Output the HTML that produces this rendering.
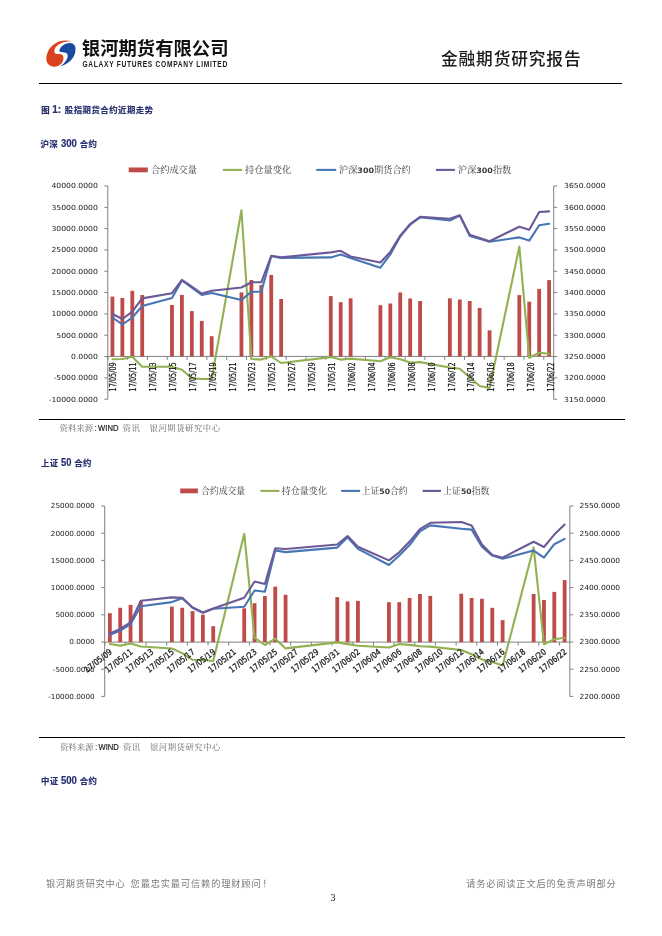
<!DOCTYPE html>
<html><head><meta charset="utf-8"><title>金融期货研究报告</title>
<style>
html,body{margin:0;padding:0;background:#fff;}
body{width:662px;height:936px;overflow:hidden;position:relative;}
svg{position:absolute;left:0;top:0;display:block;will-change:transform;}
.ax{font-family:"DejaVu Sans","Liberation Sans",sans-serif;font-size:7px;fill:#1a1a1a;}
.dt{font-family:"DejaVu Sans",sans-serif;font-size:8.1px;fill:#1a1a1a;stroke:#1a1a1a;stroke-width:0.25px;}
.dt2{font-family:"DejaVu Sans",sans-serif;font-size:8.4px;fill:#1a1a1a;stroke:#1a1a1a;stroke-width:0.3px;}
.lg{font-family:"Liberation Serif","Noto Serif CJK SC",serif;font-size:8.6px;fill:#3a3a3a;}
.lgn{font-family:"DejaVu Sans",sans-serif;font-weight:bold;font-size:7.5px;fill:#3a3a3a;}
.hd{font-family:"Liberation Sans","Noto Sans CJK SC",sans-serif;font-size:8.4px;font-weight:bold;fill:#283070;stroke:#283070;stroke-width:0.2px;}
.hdn{font-size:10px;}
.src{font-family:"Liberation Serif","Noto Serif CJK SC",serif;font-size:8.4px;fill:#6a6a6a;}
.srcw{font-family:"Liberation Sans",sans-serif;fill:#222;}
.ft{font-family:"Liberation Sans","Noto Sans CJK SC",sans-serif;font-size:9.2px;fill:#7a7a7a;}
</style></head>
<body>
<svg width="662" height="936" viewBox="0 0 662 936">
<path d="M71.6 41.2 C68 40.2 63 40 59.1 41.5 C54.5 43.2 50 47 48 51.5 C46.3 55 45.6 59.5 47.2 62.8 C48.8 65.6 51.8 66.9 54.8 66.8 C58.2 66.6 61.2 64.6 62.6 61.8 C63.8 59.3 63.8 56.2 62.4 54.9 C61.2 53.9 59.4 54.1 57.8 54.1 C56.4 54.1 55 53.6 54.6 52.4 C54.1 50.6 54.6 48.6 55.8 47 C57.6 44.8 60.6 43.2 63.6 42.2 C66.2 41.5 69 41.3 71.6 41.2 Z" fill="#D9441F"/>
<path d="M59.2 51 C59.8 48.6 61.2 46.8 62.8 45.6 C64.6 44.2 67 43.2 69.5 43.1 C71.6 43 73.6 43.8 74.7 45.6 C75.7 47.4 75.7 50.2 75.1 52.8 C74.3 56.2 72.4 59.2 69.6 61.5 C66.9 63.7 63.6 65.4 60.4 66.6 C62.6 64.8 64.6 62.8 66.1 60.6 C67.4 58.6 68 56.4 67.5 54.6 C67.1 53.2 65.8 52.5 64.2 52.4 C62.4 52.3 60.2 52.2 59.2 51 Z" fill="#1A4A9E"/>
<text x="81.8" y="54.8" font-family="Liberation Sans, Noto Sans CJK SC, sans-serif" font-weight="bold" font-size="18.3" fill="#111" textLength="146.7" lengthAdjust="spacingAndGlyphs">银河期货有限公司</text>
<text transform="translate(82.4 67) scale(0.78 1)" font-family="Liberation Sans, sans-serif" font-weight="bold" font-size="8.5" fill="#1a1a1a" textLength="185.6" lengthAdjust="spacing">GALAXY FUTURES COMPANY LIMITED</text>
<text x="441" y="65.4" font-family="Liberation Sans, Noto Sans CJK SC, sans-serif" font-size="16.7" font-weight="500" fill="#1a1a1a" textLength="139.6" lengthAdjust="spacing">金融期货研究报告</text>
<rect x="39" y="83" width="583" height="1" fill="#000"/>
<text x="41.2" y="113.1" class="hd" letter-spacing="0.5">图</text><text x="52.2" y="113.1" class="hd hdn">1:</text><text x="64.8" y="113.1" class="hd" letter-spacing="0.5">股指期货合约近期走势</text>
<text x="40.5" y="147.2" class="hd" letter-spacing="0.4">沪深</text><text x="61" y="147.2" class="hd hdn" textLength="15.9" lengthAdjust="spacingAndGlyphs">300</text><text x="79.8" y="147.2" class="hd" letter-spacing="0.4">合约</text>
<rect x="128.7" y="167.5" width="19.1" height="4.8" fill="#BE4B48"/>
<text x="151" y="173.2" class="lg" textLength="46" lengthAdjust="spacingAndGlyphs">合约成交量</text>
<path d="M222.9 169.9H242.2" stroke="#92B152" stroke-width="2.1"/>
<text x="245" y="173.2" class="lg" textLength="46.4" lengthAdjust="spacingAndGlyphs">持仓量变化</text>
<path d="M316.3 169.9H336.2" stroke="#4676B4" stroke-width="2.1"/>
<text x="339" y="173.2" class="lg" textLength="71.8" lengthAdjust="spacingAndGlyphs">沪深<tspan class="lgn">300</tspan>期货合约</text>
<path d="M435.9 169.9H454.9" stroke="#6C5A98" stroke-width="2.1"/>
<text x="458" y="173.2" class="lg" textLength="53.2" lengthAdjust="spacingAndGlyphs">沪深<tspan class="lgn">300</tspan>指数</text>
<path d="M107.8 186V399.2M553.7 186V399.2" stroke="#808080" stroke-width="1" fill="none"/>
<path d="M104.3 186H107.8M553.7 186H557.2M104.3 207.32H107.8M553.7 207.32H557.2M104.3 228.64H107.8M553.7 228.64H557.2M104.3 249.96H107.8M553.7 249.96H557.2M104.3 271.28H107.8M553.7 271.28H557.2M104.3 292.6H107.8M553.7 292.6H557.2M104.3 313.92H107.8M553.7 313.92H557.2M104.3 335.24H107.8M553.7 335.24H557.2M104.3 356.56H107.8M553.7 356.56H557.2M104.3 377.88H107.8M553.7 377.88H557.2M104.3 399.2H107.8M553.7 399.2H557.2" stroke="#808080" stroke-width="1" fill="none"/>
<path d="M107.8 356.4H553.7" stroke="#808080" stroke-width="1" fill="none"/>
<path d="M107.8 356.4v3.5M127.62 356.4v3.5M147.44 356.4v3.5M167.25 356.4v3.5M187.07 356.4v3.5M206.89 356.4v3.5M226.71 356.4v3.5M246.52 356.4v3.5M266.34 356.4v3.5M286.16 356.4v3.5M305.98 356.4v3.5M325.8 356.4v3.5M345.61 356.4v3.5M365.43 356.4v3.5M385.25 356.4v3.5M405.07 356.4v3.5M424.88 356.4v3.5M444.7 356.4v3.5M464.52 356.4v3.5M484.34 356.4v3.5M504.16 356.4v3.5M523.97 356.4v3.5M543.79 356.4v3.5" stroke="#808080" stroke-width="1" fill="none"/>
<rect x="110.54" y="296.6" width="3.8" height="59.8" fill="#BE4B48"/>
<rect x="120.46" y="298" width="3.8" height="58.4" fill="#BE4B48"/>
<rect x="130.39" y="290.8" width="3.8" height="65.6" fill="#BE4B48"/>
<rect x="140.31" y="295" width="3.8" height="61.4" fill="#BE4B48"/>
<rect x="170.08" y="305" width="3.8" height="51.4" fill="#BE4B48"/>
<rect x="180.01" y="294.9" width="3.8" height="61.5" fill="#BE4B48"/>
<rect x="189.93" y="311.1" width="3.8" height="45.3" fill="#BE4B48"/>
<rect x="199.86" y="320.9" width="3.8" height="35.5" fill="#BE4B48"/>
<rect x="209.78" y="336.2" width="3.8" height="20.2" fill="#BE4B48"/>
<rect x="239.55" y="292.4" width="3.8" height="64" fill="#BE4B48"/>
<rect x="249.48" y="280" width="3.8" height="76.4" fill="#BE4B48"/>
<rect x="259.4" y="285" width="3.8" height="71.4" fill="#BE4B48"/>
<rect x="269.32" y="274.9" width="3.8" height="81.5" fill="#BE4B48"/>
<rect x="279.25" y="299" width="3.8" height="57.4" fill="#BE4B48"/>
<rect x="328.87" y="296.1" width="3.8" height="60.3" fill="#BE4B48"/>
<rect x="338.79" y="302.2" width="3.8" height="54.2" fill="#BE4B48"/>
<rect x="348.72" y="298.3" width="3.8" height="58.1" fill="#BE4B48"/>
<rect x="378.49" y="305.2" width="3.8" height="51.2" fill="#BE4B48"/>
<rect x="388.41" y="303.5" width="3.8" height="52.9" fill="#BE4B48"/>
<rect x="398.34" y="292.5" width="3.8" height="63.9" fill="#BE4B48"/>
<rect x="408.26" y="298.5" width="3.8" height="57.9" fill="#BE4B48"/>
<rect x="418.18" y="301" width="3.8" height="55.4" fill="#BE4B48"/>
<rect x="447.96" y="298.3" width="3.8" height="58.1" fill="#BE4B48"/>
<rect x="457.88" y="299.5" width="3.8" height="56.9" fill="#BE4B48"/>
<rect x="467.8" y="301" width="3.8" height="55.4" fill="#BE4B48"/>
<rect x="477.73" y="307.9" width="3.8" height="48.5" fill="#BE4B48"/>
<rect x="487.65" y="330.3" width="3.8" height="26.1" fill="#BE4B48"/>
<rect x="517.42" y="295.1" width="3.8" height="61.3" fill="#BE4B48"/>
<rect x="527.35" y="301.7" width="3.8" height="54.7" fill="#BE4B48"/>
<rect x="537.27" y="288.9" width="3.8" height="67.5" fill="#BE4B48"/>
<rect x="547.2" y="280.1" width="3.8" height="76.3" fill="#BE4B48"/>
<polyline points="112.44,359.2 122.36,359 132.29,356.8 142.21,366.7 171.98,366.7 181.91,369.8 191.83,378.3 201.76,379 211.68,379 241.45,210.2 251.38,359 261.3,359.6 271.22,356.3 281.15,363 330.77,357.1 340.69,359.6 350.62,358.6 380.39,361.2 390.31,357.3 400.24,359.2 410.16,362.5 420.08,362.1 449.86,367.5 459.78,368.7 469.7,377.3 479.63,386 489.55,388 519.32,246.6 529.25,357.8 539.17,352.7 549.1,353.8" fill="none" stroke="#92B152" stroke-width="2.1" stroke-linejoin="round" stroke-linecap="round"/>
<polyline points="112.44,317.5 122.36,324.5 132.29,317.6 142.21,306 171.98,298 181.91,280.5 191.83,287.6 201.76,294.9 211.68,293 241.45,299.9 251.38,291.8 261.3,291.8 271.22,256.3 281.15,257.9 330.77,257.4 340.69,254.6 350.62,258 380.39,267.7 390.31,254.4 400.24,236.5 410.16,224.6 420.08,217.3 449.86,220.5 459.78,215.6 469.7,235.9 479.63,238.7 489.55,241.7 519.32,237.4 529.25,240.6 539.17,225.2 549.1,223.7" fill="none" stroke="#4676B4" stroke-width="2.1" stroke-linejoin="round" stroke-linecap="round"/>
<polyline points="112.44,314 122.36,319 132.29,311.6 142.21,298.4 171.98,293.2 181.91,279.9 191.83,286.7 201.76,293.5 211.68,290.8 241.45,287.5 251.38,282.2 261.3,282.3 271.22,255.8 281.15,257.4 330.77,252.4 340.69,250.8 350.62,256.5 380.39,262.5 390.31,251.9 400.24,235.6 410.16,224 420.08,216.9 449.86,218.8 459.78,215.2 469.7,234.8 479.63,238 489.55,241.2 519.32,226.7 529.25,229.7 539.17,212 549.1,211.4" fill="none" stroke="#6C5A98" stroke-width="2.1" stroke-linejoin="round" stroke-linecap="round"/>
<text transform="translate(97.9 188.3) scale(1.1 1)" class="ax" text-anchor="end">40000.0000</text>
<text transform="translate(97.9 209.62) scale(1.1 1)" class="ax" text-anchor="end">35000.0000</text>
<text transform="translate(97.9 230.94) scale(1.1 1)" class="ax" text-anchor="end">30000.0000</text>
<text transform="translate(97.9 252.26) scale(1.1 1)" class="ax" text-anchor="end">25000.0000</text>
<text transform="translate(97.9 273.58) scale(1.1 1)" class="ax" text-anchor="end">20000.0000</text>
<text transform="translate(97.9 294.9) scale(1.1 1)" class="ax" text-anchor="end">15000.0000</text>
<text transform="translate(97.9 316.22) scale(1.1 1)" class="ax" text-anchor="end">10000.0000</text>
<text transform="translate(97.9 337.54) scale(1.1 1)" class="ax" text-anchor="end">5000.0000</text>
<text transform="translate(97.9 358.86) scale(1.1 1)" class="ax" text-anchor="end">0.0000</text>
<text transform="translate(97.9 380.18) scale(1.1 1)" class="ax" text-anchor="end">-5000.0000</text>
<text transform="translate(97.9 401.5) scale(1.1 1)" class="ax" text-anchor="end">-10000.0000</text>
<text transform="translate(564 188.3) scale(1.1 1)" class="ax">3650.0000</text>
<text transform="translate(564 209.62) scale(1.1 1)" class="ax">3600.0000</text>
<text transform="translate(564 230.94) scale(1.1 1)" class="ax">3550.0000</text>
<text transform="translate(564 252.26) scale(1.1 1)" class="ax">3500.0000</text>
<text transform="translate(564 273.58) scale(1.1 1)" class="ax">3450.0000</text>
<text transform="translate(564 294.9) scale(1.1 1)" class="ax">3400.0000</text>
<text transform="translate(564 316.22) scale(1.1 1)" class="ax">3350.0000</text>
<text transform="translate(564 337.54) scale(1.1 1)" class="ax">3300.0000</text>
<text transform="translate(564 358.86) scale(1.1 1)" class="ax">3250.0000</text>
<text transform="translate(564 380.18) scale(1.1 1)" class="ax">3200.0000</text>
<text transform="translate(564 401.5) scale(1.1 1)" class="ax">3150.0000</text>
<text transform="translate(116 362.4) rotate(-90)" class="dt" text-anchor="end" textLength="29" lengthAdjust="spacingAndGlyphs">17/05/09</text>
<text transform="translate(135.92 362.4) rotate(-90)" class="dt" text-anchor="end" textLength="29" lengthAdjust="spacingAndGlyphs">17/05/11</text>
<text transform="translate(155.83 362.4) rotate(-90)" class="dt" text-anchor="end" textLength="29" lengthAdjust="spacingAndGlyphs">17/05/13</text>
<text transform="translate(175.75 362.4) rotate(-90)" class="dt" text-anchor="end" textLength="29" lengthAdjust="spacingAndGlyphs">17/05/15</text>
<text transform="translate(195.66 362.4) rotate(-90)" class="dt" text-anchor="end" textLength="29" lengthAdjust="spacingAndGlyphs">17/05/17</text>
<text transform="translate(215.58 362.4) rotate(-90)" class="dt" text-anchor="end" textLength="29" lengthAdjust="spacingAndGlyphs">17/05/19</text>
<text transform="translate(235.5 362.4) rotate(-90)" class="dt" text-anchor="end" textLength="29" lengthAdjust="spacingAndGlyphs">17/05/21</text>
<text transform="translate(255.41 362.4) rotate(-90)" class="dt" text-anchor="end" textLength="29" lengthAdjust="spacingAndGlyphs">17/05/23</text>
<text transform="translate(275.33 362.4) rotate(-90)" class="dt" text-anchor="end" textLength="29" lengthAdjust="spacingAndGlyphs">17/05/25</text>
<text transform="translate(295.24 362.4) rotate(-90)" class="dt" text-anchor="end" textLength="29" lengthAdjust="spacingAndGlyphs">17/05/27</text>
<text transform="translate(315.16 362.4) rotate(-90)" class="dt" text-anchor="end" textLength="29" lengthAdjust="spacingAndGlyphs">17/05/29</text>
<text transform="translate(335.08 362.4) rotate(-90)" class="dt" text-anchor="end" textLength="29" lengthAdjust="spacingAndGlyphs">17/05/31</text>
<text transform="translate(354.99 362.4) rotate(-90)" class="dt" text-anchor="end" textLength="29" lengthAdjust="spacingAndGlyphs">17/06/02</text>
<text transform="translate(374.91 362.4) rotate(-90)" class="dt" text-anchor="end" textLength="29" lengthAdjust="spacingAndGlyphs">17/06/04</text>
<text transform="translate(394.82 362.4) rotate(-90)" class="dt" text-anchor="end" textLength="29" lengthAdjust="spacingAndGlyphs">17/06/06</text>
<text transform="translate(414.74 362.4) rotate(-90)" class="dt" text-anchor="end" textLength="29" lengthAdjust="spacingAndGlyphs">17/06/08</text>
<text transform="translate(434.66 362.4) rotate(-90)" class="dt" text-anchor="end" textLength="29" lengthAdjust="spacingAndGlyphs">17/06/10</text>
<text transform="translate(454.57 362.4) rotate(-90)" class="dt" text-anchor="end" textLength="29" lengthAdjust="spacingAndGlyphs">17/06/12</text>
<text transform="translate(474.49 362.4) rotate(-90)" class="dt" text-anchor="end" textLength="29" lengthAdjust="spacingAndGlyphs">17/06/14</text>
<text transform="translate(494.4 362.4) rotate(-90)" class="dt" text-anchor="end" textLength="29" lengthAdjust="spacingAndGlyphs">17/06/16</text>
<text transform="translate(514.32 362.4) rotate(-90)" class="dt" text-anchor="end" textLength="29" lengthAdjust="spacingAndGlyphs">17/06/18</text>
<text transform="translate(534.24 362.4) rotate(-90)" class="dt" text-anchor="end" textLength="29" lengthAdjust="spacingAndGlyphs">17/06/20</text>
<text transform="translate(554.15 362.4) rotate(-90)" class="dt" text-anchor="end" textLength="29" lengthAdjust="spacingAndGlyphs">17/06/22</text>
<rect x="39" y="419" width="586" height="1" fill="#000"/>
<text x="59.5" y="430.8" class="src" textLength="33.6" lengthAdjust="spacing">资料来源</text><text x="94.6" y="430.8" class="src srcw">:</text><text x="98.1" y="430.8" class="src srcw" style="font-size:8.6px;stroke:#222;stroke-width:0.2px" textLength="20.3" lengthAdjust="spacingAndGlyphs">WIND</text><text x="122.6" y="430.8" class="src" textLength="17.2" lengthAdjust="spacing">资讯</text><text x="149.6" y="430.8" class="src" textLength="70.4" lengthAdjust="spacing">银河期货研究中心</text>
<text x="41" y="466.2" class="hd" letter-spacing="0.4">上证</text><text x="61" y="466.2" class="hd hdn" textLength="10.4" lengthAdjust="spacingAndGlyphs">50</text><text x="74.2" y="466.2" class="hd" letter-spacing="0.4">合约</text>
<rect x="180.2" y="488.5" width="17.7" height="4.8" fill="#BE4B48"/>
<text x="201.1" y="494.2" class="lg" textLength="44.1" lengthAdjust="spacingAndGlyphs">合约成交量</text>
<path d="M260.4 490.9H279.5" stroke="#92B152" stroke-width="2.1"/>
<text x="281.7" y="494.2" class="lg" textLength="45.3" lengthAdjust="spacingAndGlyphs">持仓量变化</text>
<path d="M341.1 490.9H360.1" stroke="#4676B4" stroke-width="2.1"/>
<text x="361.7" y="494.2" class="lg" textLength="46" lengthAdjust="spacingAndGlyphs">上证<tspan class="lgn">50</tspan>合约</text>
<path d="M422.6 490.9H441" stroke="#6C5A98" stroke-width="2.1"/>
<text x="443.3" y="494.2" class="lg" textLength="46" lengthAdjust="spacingAndGlyphs">上证<tspan class="lgn">50</tspan>指数</text>
<path d="M104.7 506V696.4M569.8 506V696.4" stroke="#808080" stroke-width="1" fill="none"/>
<path d="M101.2 506H104.7M569.8 506H573.3M101.2 533.2H104.7M569.8 533.2H573.3M101.2 560.4H104.7M569.8 560.4H573.3M101.2 587.6H104.7M569.8 587.6H573.3M101.2 614.8H104.7M569.8 614.8H573.3M101.2 642H104.7M569.8 642H573.3M101.2 669.2H104.7M569.8 669.2H573.3M101.2 696.4H104.7M569.8 696.4H573.3" stroke="#808080" stroke-width="1" fill="none"/>
<path d="M104.7 642.1H569.8" stroke="#808080" stroke-width="1" fill="none"/>
<path d="M104.7 642.1v3.5M125.37 642.1v3.5M146.04 642.1v3.5M166.71 642.1v3.5M187.38 642.1v3.5M208.06 642.1v3.5M228.73 642.1v3.5M249.4 642.1v3.5M270.07 642.1v3.5M290.74 642.1v3.5M311.41 642.1v3.5M332.08 642.1v3.5M352.75 642.1v3.5M373.42 642.1v3.5M394.1 642.1v3.5M414.77 642.1v3.5M435.44 642.1v3.5M456.11 642.1v3.5M476.78 642.1v3.5M497.45 642.1v3.5M518.12 642.1v3.5M538.79 642.1v3.5M559.46 642.1v3.5" stroke="#808080" stroke-width="1" fill="none"/>
<rect x="107.97" y="613.2" width="3.8" height="28.9" fill="#BE4B48"/>
<rect x="118.3" y="607.8" width="3.8" height="34.3" fill="#BE4B48"/>
<rect x="128.64" y="604.9" width="3.8" height="37.2" fill="#BE4B48"/>
<rect x="138.97" y="601.1" width="3.8" height="41" fill="#BE4B48"/>
<rect x="169.98" y="606.6" width="3.8" height="35.5" fill="#BE4B48"/>
<rect x="180.32" y="607.8" width="3.8" height="34.3" fill="#BE4B48"/>
<rect x="190.65" y="611.1" width="3.8" height="31" fill="#BE4B48"/>
<rect x="200.99" y="614.7" width="3.8" height="27.4" fill="#BE4B48"/>
<rect x="211.32" y="626.2" width="3.8" height="15.9" fill="#BE4B48"/>
<rect x="242.33" y="608.3" width="3.8" height="33.8" fill="#BE4B48"/>
<rect x="252.67" y="603.2" width="3.8" height="38.9" fill="#BE4B48"/>
<rect x="263" y="596" width="3.8" height="46.1" fill="#BE4B48"/>
<rect x="273.34" y="586.6" width="3.8" height="55.5" fill="#BE4B48"/>
<rect x="283.67" y="594.8" width="3.8" height="47.3" fill="#BE4B48"/>
<rect x="335.35" y="597.1" width="3.8" height="45" fill="#BE4B48"/>
<rect x="345.69" y="601.4" width="3.8" height="40.7" fill="#BE4B48"/>
<rect x="356.02" y="600.9" width="3.8" height="41.2" fill="#BE4B48"/>
<rect x="387.03" y="602.2" width="3.8" height="39.9" fill="#BE4B48"/>
<rect x="397.36" y="602.2" width="3.8" height="39.9" fill="#BE4B48"/>
<rect x="407.7" y="598" width="3.8" height="44.1" fill="#BE4B48"/>
<rect x="418.03" y="594" width="3.8" height="48.1" fill="#BE4B48"/>
<rect x="428.37" y="595.9" width="3.8" height="46.2" fill="#BE4B48"/>
<rect x="459.38" y="593.7" width="3.8" height="48.4" fill="#BE4B48"/>
<rect x="469.71" y="598" width="3.8" height="44.1" fill="#BE4B48"/>
<rect x="480.05" y="598.8" width="3.8" height="43.3" fill="#BE4B48"/>
<rect x="490.38" y="607.8" width="3.8" height="34.3" fill="#BE4B48"/>
<rect x="500.72" y="620.1" width="3.8" height="22" fill="#BE4B48"/>
<rect x="531.73" y="594" width="3.8" height="48.1" fill="#BE4B48"/>
<rect x="542.06" y="600" width="3.8" height="42.1" fill="#BE4B48"/>
<rect x="552.4" y="591.9" width="3.8" height="50.2" fill="#BE4B48"/>
<rect x="562.73" y="580.1" width="3.8" height="62" fill="#BE4B48"/>
<polyline points="109.87,644 120.2,645.6 130.54,643.5 140.87,646.5 171.88,648.5 182.22,653.1 192.55,659.8 202.89,660 213.22,661 244.23,533.7 254.57,637.8 264.9,645 275.24,638.7 285.57,648.4 337.25,642.4 347.59,644.1 357.92,645.8 388.93,647.5 399.26,644.1 409.6,644.9 419.93,646.3 430.27,646.6 461.28,650 471.61,654.3 481.95,659.5 492.28,662 502.62,665.6 533.63,547.4 543.96,644.2 554.3,639.3 564.63,637.8" fill="none" stroke="#92B152" stroke-width="2.1" stroke-linejoin="round" stroke-linecap="round"/>
<polyline points="109.87,634.8 120.2,630.7 130.54,624 140.87,606.3 171.88,602.1 182.22,598.3 192.55,607.7 202.89,612.7 213.22,608.8 244.23,606.8 254.57,590.5 264.9,591.7 275.24,550.4 285.57,552.1 337.25,547.6 347.59,537.3 357.92,548.9 388.93,565 399.26,555.5 409.6,545 419.93,531.3 430.27,525.4 461.28,528.8 471.61,529.6 481.95,546.7 492.28,555.6 502.62,558.8 533.63,550.6 543.96,557.7 554.3,544.2 564.63,538.9" fill="none" stroke="#4676B4" stroke-width="2.1" stroke-linejoin="round" stroke-linecap="round"/>
<polyline points="109.87,633.5 120.2,629 130.54,622.4 140.87,600.8 171.88,597.4 182.22,597.8 192.55,607.4 202.89,612.5 213.22,608.6 244.23,597.7 254.57,581.5 264.9,584 275.24,548.2 285.57,549 337.25,544.5 347.59,536 357.92,546.7 388.93,560.4 399.26,552.3 409.6,541.6 419.93,529.1 430.27,522.8 461.28,522 471.61,525.4 481.95,544.5 492.28,555 502.62,557.7 533.63,541.7 543.96,547 554.3,534.6 564.63,524.6" fill="none" stroke="#6C5A98" stroke-width="2.1" stroke-linejoin="round" stroke-linecap="round"/>
<text transform="translate(94.7 508.3) scale(1.04 1)" class="ax" text-anchor="end">25000.0000</text>
<text transform="translate(94.7 535.5) scale(1.04 1)" class="ax" text-anchor="end">20000.0000</text>
<text transform="translate(94.7 562.7) scale(1.04 1)" class="ax" text-anchor="end">15000.0000</text>
<text transform="translate(94.7 589.9) scale(1.04 1)" class="ax" text-anchor="end">10000.0000</text>
<text transform="translate(94.7 617.1) scale(1.04 1)" class="ax" text-anchor="end">5000.0000</text>
<text transform="translate(94.7 644.3) scale(1.04 1)" class="ax" text-anchor="end">0.0000</text>
<text transform="translate(94.7 671.5) scale(1.04 1)" class="ax" text-anchor="end">-5000.0000</text>
<text transform="translate(94.7 698.7) scale(1.04 1)" class="ax" text-anchor="end">-10000.0000</text>
<text transform="translate(579.4 508.3) scale(1.075 1)" class="ax">2550.0000</text>
<text transform="translate(579.4 535.5) scale(1.075 1)" class="ax">2500.0000</text>
<text transform="translate(579.4 562.7) scale(1.075 1)" class="ax">2450.0000</text>
<text transform="translate(579.4 589.9) scale(1.075 1)" class="ax">2400.0000</text>
<text transform="translate(579.4 617.1) scale(1.075 1)" class="ax">2350.0000</text>
<text transform="translate(579.4 644.3) scale(1.075 1)" class="ax">2300.0000</text>
<text transform="translate(579.4 671.5) scale(1.075 1)" class="ax">2250.0000</text>
<text transform="translate(579.4 698.7) scale(1.075 1)" class="ax">2200.0000</text>
<text transform="translate(112.67 653) rotate(-38)" class="dt2" text-anchor="end" textLength="32.5" lengthAdjust="spacingAndGlyphs">17/05/09</text>
<text transform="translate(133.34 653) rotate(-38)" class="dt2" text-anchor="end" textLength="32.5" lengthAdjust="spacingAndGlyphs">17/05/11</text>
<text transform="translate(154.01 653) rotate(-38)" class="dt2" text-anchor="end" textLength="32.5" lengthAdjust="spacingAndGlyphs">17/05/13</text>
<text transform="translate(174.68 653) rotate(-38)" class="dt2" text-anchor="end" textLength="32.5" lengthAdjust="spacingAndGlyphs">17/05/15</text>
<text transform="translate(195.35 653) rotate(-38)" class="dt2" text-anchor="end" textLength="32.5" lengthAdjust="spacingAndGlyphs">17/05/17</text>
<text transform="translate(216.02 653) rotate(-38)" class="dt2" text-anchor="end" textLength="32.5" lengthAdjust="spacingAndGlyphs">17/05/19</text>
<text transform="translate(236.69 653) rotate(-38)" class="dt2" text-anchor="end" textLength="32.5" lengthAdjust="spacingAndGlyphs">17/05/21</text>
<text transform="translate(257.37 653) rotate(-38)" class="dt2" text-anchor="end" textLength="32.5" lengthAdjust="spacingAndGlyphs">17/05/23</text>
<text transform="translate(278.04 653) rotate(-38)" class="dt2" text-anchor="end" textLength="32.5" lengthAdjust="spacingAndGlyphs">17/05/25</text>
<text transform="translate(298.71 653) rotate(-38)" class="dt2" text-anchor="end" textLength="32.5" lengthAdjust="spacingAndGlyphs">17/05/27</text>
<text transform="translate(319.38 653) rotate(-38)" class="dt2" text-anchor="end" textLength="32.5" lengthAdjust="spacingAndGlyphs">17/05/29</text>
<text transform="translate(340.05 653) rotate(-38)" class="dt2" text-anchor="end" textLength="32.5" lengthAdjust="spacingAndGlyphs">17/05/31</text>
<text transform="translate(360.72 653) rotate(-38)" class="dt2" text-anchor="end" textLength="32.5" lengthAdjust="spacingAndGlyphs">17/06/02</text>
<text transform="translate(381.39 653) rotate(-38)" class="dt2" text-anchor="end" textLength="32.5" lengthAdjust="spacingAndGlyphs">17/06/04</text>
<text transform="translate(402.06 653) rotate(-38)" class="dt2" text-anchor="end" textLength="32.5" lengthAdjust="spacingAndGlyphs">17/06/06</text>
<text transform="translate(422.73 653) rotate(-38)" class="dt2" text-anchor="end" textLength="32.5" lengthAdjust="spacingAndGlyphs">17/06/08</text>
<text transform="translate(443.41 653) rotate(-38)" class="dt2" text-anchor="end" textLength="32.5" lengthAdjust="spacingAndGlyphs">17/06/10</text>
<text transform="translate(464.08 653) rotate(-38)" class="dt2" text-anchor="end" textLength="32.5" lengthAdjust="spacingAndGlyphs">17/06/12</text>
<text transform="translate(484.75 653) rotate(-38)" class="dt2" text-anchor="end" textLength="32.5" lengthAdjust="spacingAndGlyphs">17/06/14</text>
<text transform="translate(505.42 653) rotate(-38)" class="dt2" text-anchor="end" textLength="32.5" lengthAdjust="spacingAndGlyphs">17/06/16</text>
<text transform="translate(526.09 653) rotate(-38)" class="dt2" text-anchor="end" textLength="32.5" lengthAdjust="spacingAndGlyphs">17/06/18</text>
<text transform="translate(546.76 653) rotate(-38)" class="dt2" text-anchor="end" textLength="32.5" lengthAdjust="spacingAndGlyphs">17/06/20</text>
<text transform="translate(567.43 653) rotate(-38)" class="dt2" text-anchor="end" textLength="32.5" lengthAdjust="spacingAndGlyphs">17/06/22</text>
<rect x="39" y="737" width="586" height="1" fill="#000"/>
<text x="59.9" y="749.6" class="src" textLength="33.6" lengthAdjust="spacing">资料来源</text><text x="95" y="749.6" class="src srcw">:</text><text x="98.5" y="749.6" class="src srcw" style="font-size:8.6px;stroke:#222;stroke-width:0.2px" textLength="20.3" lengthAdjust="spacingAndGlyphs">WIND</text><text x="123" y="749.6" class="src" textLength="17.2" lengthAdjust="spacing">资讯</text><text x="150" y="749.6" class="src" textLength="70.4" lengthAdjust="spacing">银河期货研究中心</text>
<text x="41" y="784.2" class="hd" letter-spacing="0.4">中证</text><text x="61" y="784.2" class="hd hdn" textLength="15.9" lengthAdjust="spacingAndGlyphs">500</text><text x="79.8" y="784.2" class="hd" letter-spacing="0.4">合约</text>
<text x="46" y="886.8" class="ft" textLength="78.6" lengthAdjust="spacing">银河期货研究中心</text><text x="130.6" y="886.8" class="ft" textLength="130" lengthAdjust="spacing">您最忠实最可信赖的理财顾问</text><text x="262.5" y="886.8" class="ft">！</text>
<text x="466.2" y="886.8" class="ft" textLength="149.6" lengthAdjust="spacing">请务必阅读正文后的免责声明部分</text>
<text x="333" y="901" font-family="Liberation Serif, serif" font-size="10" fill="#111" text-anchor="middle">3</text>
</svg>
</body></html>
